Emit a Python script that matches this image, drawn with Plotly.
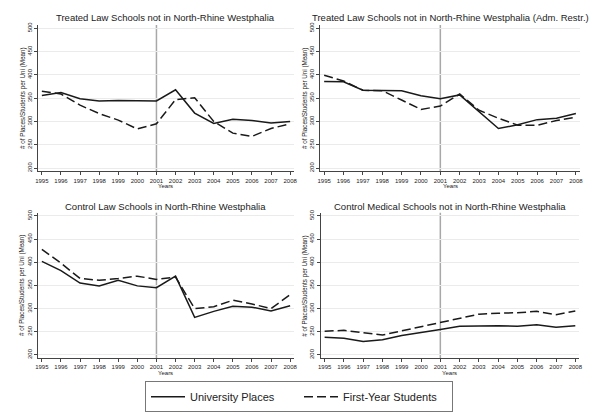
import plotly.graph_objects as go

years = list(range(1995, 2009))

titles = [
    "Treated Law Schools not in North-Rhine Westphalia",
    "Treated Law Schools not in North-Rhine Westphalia (Adm. Restr.)",
    "Control Law Schools in North-Rhine Westphalia",
    "Control Medical Schools not in North-Rhine Westphalia",
]

places_treated = [356, 362, 349, 344, 345, 344, 344, 368, 318, 296, 305, 302, 297, 300]
students_treated = [365, 359, 335, 317, 303, 284, 295, 347, 351, 300, 275, 268, 285, 295]

places_adm = [386, 385, 367, 366, 366, 355, 349, 357, 320, 285, 293, 304, 307, 317]
students_adm = [399, 387, 367, 366, 346, 326, 333, 359, 324, 307, 292, 292, 302, 309]

places_ctrl_law = [402, 382, 355, 349, 361, 349, 345, 370, 281, 294, 305, 303, 295, 306]
students_ctrl_law = [428, 398, 365, 361, 365, 370, 363, 368, 300, 304, 318, 310, 300, 330]

places_ctrl_med = [238, 236, 229, 233, 242, 248, 255, 262, 263, 263, 262, 265, 260, 263]
students_ctrl_med = [251, 253, 248, 243, 252, 261, 271, 280, 288, 290, 291, 294, 287, 295]

yticks = [200, 250, 300, 350, 400, 450, 500]
reform_year = 2001

panels = [
    (places_treated, students_treated),
    (places_adm, students_adm),
    (places_ctrl_law, students_ctrl_law),
    (places_ctrl_med, students_ctrl_med),
]

W, H = 598, 418
def xd(a, b):
    return [a / W, b / W]
def yd(top, bottom):
    return [1 - bottom / H, 1 - top / H]

xdoms = [xd(35.4, 293.9), xd(320.5, 582.6), xd(35.4, 293.9), xd(321, 582)]
ydoms = [yd(22.2, 170), yd(22.2, 170), yd(211.7, 358.6), yd(211.7, 358.6)]

FONT = "Arial, Liberation Sans, sans-serif"
LINE = "#1a1a1a"
AXC = "#444444"

fig = go.Figure()
annotations = []
shapes = []
for i, (pl, st) in enumerate(panels):
    n = "" if i == 0 else str(i + 1)
    fig.add_trace(go.Scatter(x=years, y=pl, mode="lines", name="University Places",
                             line=dict(color=LINE, width=1.5), xaxis="x" + n, yaxis="y" + n,
                             showlegend=(i == 0), legendrank=1))
    fig.add_trace(go.Scatter(x=years, y=st, mode="lines", name="First-Year Students",
                             line=dict(color=LINE, width=1.5, dash="9px,4px"), xaxis="x" + n, yaxis="y" + n,
                             showlegend=(i == 0), legendrank=2))
    fig.layout["xaxis" + n] = dict(
        domain=xdoms[i], anchor="y" + n, range=[1994.8, 2008.2],
        tickmode="array", tickvals=years, ticktext=[str(y) for y in years],
        showline=True, linecolor=AXC, linewidth=1, ticks="outside", ticklen=3, tickcolor=AXC,
        showgrid=False, zeroline=False, tickfont=dict(size=6, family=FONT, color="#222"),
        fixedrange=True,
    )
    fig.layout["yaxis" + n] = dict(
        domain=ydoms[i], anchor="x" + n, range=[193, 507],
        tickmode="array", tickvals=yticks, ticktext=[str(v) for v in yticks], tickangle=-90,
        showline=True, linecolor=AXC, linewidth=1, ticks="outside", ticklen=3, tickcolor=AXC,
        showgrid=True, gridcolor="#ebebeb", gridwidth=1, zeroline=False,
        tickfont=dict(size=6, family=FONT, color="#222"), fixedrange=True,
    )
    shapes.append(dict(type="line", xref="x" + n, yref="y" + n + " domain",
                       x0=reform_year, x1=reform_year, y0=0, y1=1,
                       line=dict(color="#a8a8a8", width=1.5), layer="below"))
    xc = (xdoms[i][0] + xdoms[i][1]) / 2
    ytitle = 1 - (15 if i < 2 else 205) / H
    annotations.append(dict(text=titles[i], x=xc, y=ytitle, xref="paper", yref="paper",
                            showarrow=False, xanchor="center", yanchor="middle",
                            font=dict(size=9.5, family=FONT, color="#222")))
    yyears = 1 - (185 if i < 2 else 373.5) / H
    annotations.append(dict(text="Years", x=xc, y=yyears, xref="paper", yref="paper",
                            showarrow=False, xanchor="center", yanchor="middle",
                            font=dict(size=6, family=FONT, color="#222")))
    yc = (ydoms[i][0] + ydoms[i][1]) / 2
    xt = (xdoms[i][0] * W - 15.5) / W
    annotations.append(dict(text="# of Places/Students per Uni (Mean)", x=xt, y=yc,
                            xref="paper", yref="paper", showarrow=False, textangle=-90,
                            xanchor="center", yanchor="middle",
                            font=dict(size=6.3, family=FONT, color="#222")))

fig.update_layout(
    width=W, height=H, margin=dict(l=0, r=0, t=0, b=0),
    paper_bgcolor="white", plot_bgcolor="white",
    annotations=annotations, shapes=shapes,
    legend=dict(orientation="h", x=0.5, xanchor="center", y=1 - 397.5 / H, yanchor="middle",
                bordercolor="#777", borderwidth=1, bgcolor="white",
                font=dict(size=11, family=FONT, color="#222"), itemwidth=34,
                entrywidth=104, entrywidthmode="pixels"),
)

fig.write_html("out.html")
